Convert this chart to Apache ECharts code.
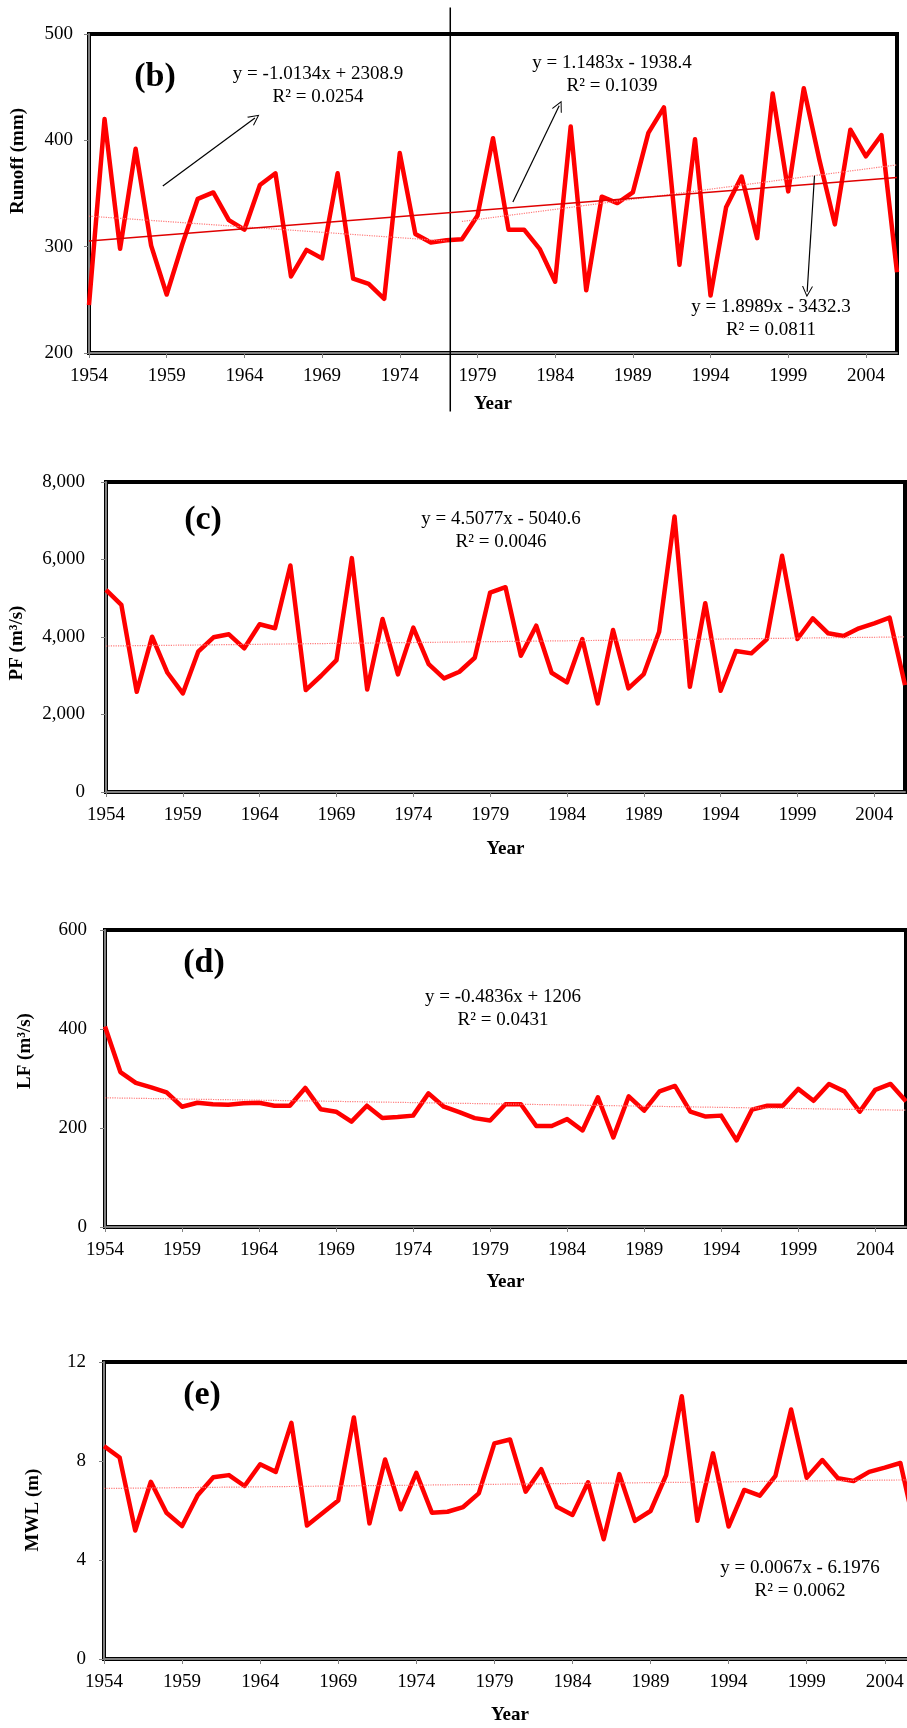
<!DOCTYPE html>
<html>
<head>
<meta charset="utf-8">
<script src="https://cdn.jsdelivr.net/npm/echarts@6/dist/echarts.min.js"></script>
<style>
  html, body { margin: 0; padding: 0; background: #fff; }
  #main { width: 907px; height: 1728px; }
</style>
</head>
<body>
<div id="main"></div>
<script>
// years on the x axis
let years = [1954, 1955, 1956, 1957, 1958, 1959, 1960, 1961, 1962, 1963,
  1964, 1965, 1966, 1967, 1968, 1969, 1970, 1971, 1972, 1973,
  1974, 1975, 1976, 1977, 1978, 1979, 1980, 1981, 1982, 1983,
  1984, 1985, 1986, 1987, 1988, 1989, 1990, 1991, 1992, 1993,
  1994, 1995, 1996, 1997, 1998, 1999, 2000, 2001, 2002, 2003,
  2004, 2005, 2006]
let tickYears = [1954, 1959, 1964, 1969, 1974, 1979, 1984, 1989, 1994, 1999, 2004]

// (b) runoff, mm
let runoff = [245, 420, 298, 392, 301, 255, 302, 345, 351, 325,
  316, 358, 369, 272, 297, 289, 369, 270, 265, 251,
  388, 312, 304, 306, 307, 329, 402, 316, 316, 298,
  267, 413, 259, 347, 341, 351, 407, 431, 283, 401,
  254, 337, 366, 308, 444, 352, 449, 382, 321, 410,
  385, 405, 276]
// (c) peak flow, m3/s
let pf = [5215, 4828, 2586, 4008, 3077, 2544, 3620, 3992, 4070, 3708,
  4328, 4225, 5844, 2630, 3000, 3405, 6035, 2647, 4465, 3035,
  4241, 3302, 2932, 3103, 3465, 5146, 5285, 3517, 4292, 3077,
  2829, 3948, 2286, 4181, 2674, 3043, 4137, 7111, 2715, 4871,
  2612, 3638, 3578, 3940, 6095, 3948, 4483, 4095, 4026, 4225,
  4354, 4499, 2759]
// (d) low flow, m3/s
let lf = [405, 313, 291, 282, 272, 243, 251, 248, 247, 250,
  251, 245, 245, 281, 238, 233, 213, 245, 220, 222,
  225, 270, 243, 232, 220, 215, 248, 248, 204, 204,
  218, 195, 262, 181, 264, 235, 274, 285, 233, 223,
  225, 175, 237, 245, 245, 279, 255, 289, 274, 233,
  277, 289, 254]
// (e) mean water level, m
let mwl = [8.60, 8.14, 5.19, 7.16, 5.91, 5.37, 6.62, 7.34, 7.43, 6.99,
  7.87, 7.56, 9.54, 5.39, 5.90, 6.40, 9.76, 5.48, 8.06, 6.05,
  7.52, 5.91, 5.95, 6.14, 6.69, 8.71, 8.87, 6.76, 7.67, 6.15,
  5.82, 7.14, 4.84, 7.47, 5.58, 5.98, 7.43, 10.62, 5.59, 8.31,
  5.35, 6.83, 6.60, 7.40, 10.08, 7.32, 8.04, 7.30, 7.19, 7.56,
  7.73, 7.92, 5.10]

// trend line end points [year, value]
let trendB = [[1954, 305.4], [2006, 365.1]]
let trendB1 = [[1954, 328.7], [1977, 305.4]]
let trendB2 = [[1978, 323.7], [2006, 376.9]]
let trendC = [[1954, 3767], [2006, 4002]]
let trendD = [[1954, 261.0], [2006, 235.9]]
let trendE = [[1954, 6.89], [2006, 7.24]]
// arrows in panel (b): [from, to]
let arrowsB = [
  [[1958.75, 357], [1964.68, 421]],
  [[1981.28, 342], [1984.26, 432.6]],
  [[2000.69, 366.7], [2000.22, 257.6]]
]
// split year line in panel (b)
let splitB = [[1977.25, 525], [1977.25, 145]]

const FONT = "'Liberation Serif', 'Times New Roman', serif"
const RED = '#ff0000'
const ARROW = 'path://M0,20 L10,0 L20,20 L18,20 L10,4 L2,20 Z'

let panels = [
  {grid: {left: 89, top: 34, width: 808, height: 319}, min: 200, max: 500, step: 100, values: runoff,
    labelMargin: 16, nameGap: 42, thousands: false},
  {grid: {left: 106, top: 482, width: 799, height: 310}, min: 0, max: 8000, step: 2000, values: pf,
    labelMargin: 21, nameGap: 48, thousands: true},
  {grid: {left: 105, top: 930, width: 801, height: 297}, min: 0, max: 600, step: 200, values: lf,
    labelMargin: 18, nameGap: 46, thousands: false},
  // this one runs off the right edge of the picture
  {grid: {left: 104, top: 1362, width: 812, height: 297}, min: 0, max: 12, step: 4, values: mwl,
    labelMargin: 18, nameGap: 47, thousands: false}
]
let trends = [trendB1, trendC, trendD, trendE]

let trendLine = (pts, type, color, width) => [
  {coord: pts[0], lineStyle: {type: type, color: color, width: width}},
  {coord: pts[1]}
]

let grids = [], xAxes = [], yAxes = [], series = []
panels.forEach((p, i) => {
  grids.push({
    ...p.grid,
    outerBoundsMode: 'none',
    containLabel: false,
    show: true,
    borderColor: '#000',
    borderWidth: 4,
    backgroundColor: 'transparent'
  })
  xAxes.push({
    type: 'value', gridIndex: i, min: 1954, max: 2006,
    name: 'Year', nameLocation: 'middle', nameGap: p.nameGap,
    nameTextStyle: {fontFamily: FONT, fontSize: 19, fontWeight: 'bold', color: '#000'},
    axisLine: {show: true, onZero: false, lineStyle: {color: '#808080', width: 2}},
    axisTick: {show: true, customValues: tickYears, length: 5, lineStyle: {color: '#808080', width: 1}},
    axisLabel: {customValues: tickYears, formatter: v => String(v), margin: 14,
      fontFamily: FONT, fontSize: 19, color: '#000'},
    splitLine: {show: false}
  })
  yAxes.push({
    type: 'value', gridIndex: i, min: p.min, max: p.max, interval: p.step,
    axisLine: {show: true, onZero: false, lineStyle: {color: '#808080', width: 2}},
    axisTick: {show: true, length: 5, lineStyle: {color: '#808080', width: 1}},
    axisLabel: {margin: p.labelMargin, fontFamily: FONT, fontSize: 19, color: '#000',
      formatter: v => p.thousands ? v.toLocaleString('en-US') : String(v)},
    splitLine: {show: false}
  })
  let marks = [trendLine(trends[i], 'dotted', '#ff7a7a', 1.2)]
  if (i === 0) {
    marks.push(trendLine(trendB2, 'dotted', '#ff7a7a', 1.2))
    marks.push(trendLine(trendB, 'solid', '#e00000', 1.5))
    arrowsB.forEach(a => {
      marks.push([
        {coord: a[0], symbol: 'none', lineStyle: {type: 'solid', color: '#000', width: 1.2}},
        {coord: a[1], symbol: ARROW, symbolSize: [11, 11]}
      ])
    })
  }
  series.push({
    type: 'line', xAxisIndex: i, yAxisIndex: i,
    data: years.map((y, k) => [y, p.values[k]]),
    symbol: 'none', showSymbol: false, z: 3,
    lineStyle: {color: RED, width: 4.5, join: 'round', cap: 'butt'},
    itemStyle: {color: RED},
    markLine: {silent: true, animation: false, symbol: ['none', 'none'], label: {show: false},
      emphasis: {disabled: true}, data: marks}
  })
})
// the vertical split line runs past the plot area
series.push({
  type: 'line', xAxisIndex: 0, yAxisIndex: 0, data: splitB, clip: false,
  symbol: 'none', silent: true, z: 4,
  lineStyle: {color: '#000', width: 1.5}
})

let txt = (x, y, text, size, bold, extra) => ({
  type: 'text', x: x, y: y, silent: true, z: 10,
  ...(extra || {}),
  style: {text: text, fontFamily: FONT, fontSize: size, fontWeight: bold ? 'bold' : 'normal',
    fill: '#000', align: 'center', verticalAlign: 'middle', lineHeight: 23}
})
let vtxt = (x, y, text) => txt(x, y, text, 19, true, {rotation: Math.PI / 2})

let graphics = [
  txt(155, 77, '(b)', 34, true),
  txt(318, 86, 'y = -1.0134x + 2308.9\nR² = 0.0254', 19, false),
  txt(612, 75, 'y = 1.1483x - 1938.4\nR² = 0.1039', 19, false),
  txt(771, 319, 'y = 1.8989x - 3432.3\nR² = 0.0811', 19, false),
  vtxt(18, 161, 'Runoff (mm)'),

  txt(203, 520, '(c)', 34, true),
  txt(501, 531, 'y = 4.5077x - 5040.6\nR² = 0.0046', 19, false),
  vtxt(17, 643, 'PF (m³/s)'),

  txt(204, 963, '(d)', 34, true),
  txt(503, 1009, 'y = -0.4836x + 1206\nR² = 0.0431', 19, false),
  vtxt(25, 1051, 'LF (m³/s)'),

  txt(202, 1395, '(e)', 34, true),
  txt(800, 1580, 'y = 0.0067x - 6.1976\nR² = 0.0062', 19, false),
  vtxt(33, 1510, 'MWL (m)')
]

let myChart = echarts.init(document.getElementById('main'))
myChart.setOption({
  animation: false,
  backgroundColor: '#fff',
  grid: grids,
  xAxis: xAxes,
  yAxis: yAxes,
  series: series,
  graphic: graphics
})
</script>
</body>
</html>
